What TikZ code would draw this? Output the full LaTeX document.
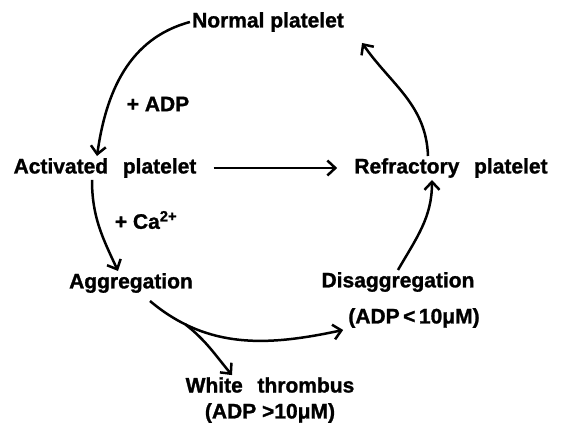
\documentclass[tikz,border=0pt]{standalone}
\usepackage{fontspec}
\setmainfont{Liberation Sans}[BoldFeatures={FakeBold=1.2}]
\usepackage{tikz}
\usetikzlibrary{arrows.meta}

\begin{document}
\begin{tikzpicture}[x=1pt, y=1pt,
		>={Straight Barb[length=8pt, width=15pt]},
		lbl/.style={font=\fontsize{21}{25}\selectfont\bfseries, inner sep=2pt},
		arr/.style={->, line width=2.5pt}]
		\useasboundingbox (0,0) rectangle (566,424);
		
		% Stages
		\node[lbl] (normal) at (268,402) {Normal platelet};
		\node[lbl] (activated) at (105,256) {Activated\hspace{.7em}platelet};
		\node[lbl] (refractory) at (451,256) {Refractory\hspace{.7em}platelet};
		\node[lbl] (aggregation) at (131,141) {Aggregation};
		\node[lbl] (disagg) at (398,142) {Disaggregation};
		\node[lbl] (disagg_c) at (414,106) {(ADP\,<\,10μM)};
		\node[lbl] (white) at (270,39) {White\hspace{.7em}thrombus};
		\node[lbl] (white_c) at (270,11) {(ADP >10μM)};
		
		% Additions
		\node[lbl] (adp) at (158,320) {+ ADP};
		\node[lbl] (ca) at (146,204) {+ Ca\textsuperscript{2+}};
		
		% Cycle
		\draw[arr] (normal.west) to[out=195, in=82] ([xshift=-8pt]activated.north);
		\draw[arr, shorten <=15pt, shorten >=15pt] (activated) -- (refractory);
		\draw[arr] ([xshift=-23pt]refractory.north) to[out=92, in=-55] ([shift={(16pt,-9pt)}]normal.south east);
		\draw[arr] ([xshift=-13pt]activated.south) to[out=-90, in=115] ([xshift=-13pt]aggregation.north);
		\draw[arr] ([xshift=19pt, yshift=-6pt]aggregation.south) to[out=-40, in=192] coordinate[pos=0.2] (branch) ([xshift=-3pt]disagg_c.south west);
		\draw[arr] (disagg.north) to[out=60, in=-90] ([xshift=-19pt]refractory.south);
		
		% Branch to thrombus
		\draw[arr] (branch) to[out=-38, in=130] ([xshift=-38pt]white.north);
	\end{tikzpicture}
\end{document}
